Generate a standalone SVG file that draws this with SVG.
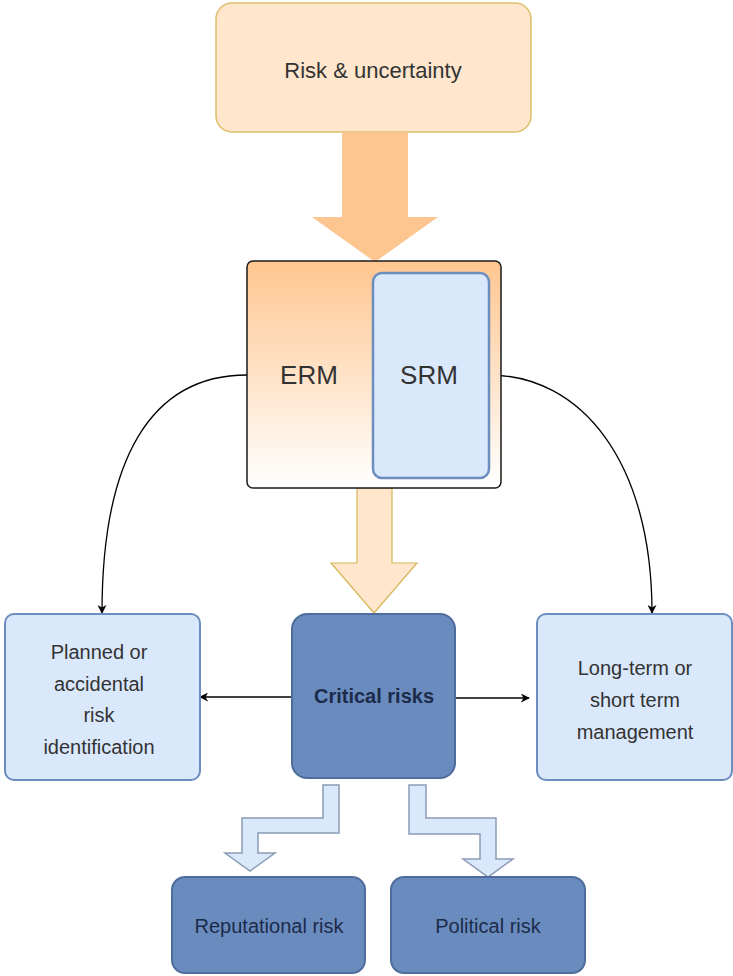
<svg xmlns="http://www.w3.org/2000/svg" width="733" height="976" viewBox="0 0 733 976">
<defs>
<linearGradient id="ermGrad" x1="0" y1="0" x2="0" y2="1">
<stop offset="0" stop-color="#FFC690"/>
<stop offset="1" stop-color="#FFFFFF"/>
</linearGradient>
<marker id="arr" viewBox="0 0 10 10" refX="9" refY="5" markerWidth="9" markerHeight="9" markerUnits="userSpaceOnUse" orient="auto">
<path d="M0,0 L10,5 L0,10 L3,5 Z" fill="#000"/>
</marker>
</defs>
<style>
text{font-family:"Liberation Sans",Arial,sans-serif;text-anchor:middle}
.lt{fill:#333333;font-size:20px}
.dk{fill:#1C2B4A;font-size:20px}
.lb{fill:#DAE8FC;stroke:#6C8EBF;stroke-width:2}
.db{fill:#6A8BBE;stroke:#4E6C9C;stroke-width:2}
.conn{fill:none;stroke:#000;stroke-width:1.3;marker-end:url(#arr)}
.bent{fill:#DAE8FC;stroke:#8A9BB5;stroke-width:1.5}
</style>
<rect width="733" height="976" fill="#FFFFFF"/>
<g id="risk-uncertainty">
<rect x="216" y="3" width="315" height="129" rx="16" fill="#FFE6CC" stroke="#DDBE6A" stroke-width="1.5"/>
<text x="373" y="78" style="font-size:22px;fill:#333">Risk &amp; uncertainty</text>
</g>
<g id="connectors">
<polygon points="342,132 408,132 408,217 438,217 375,262 312,217 342,217" fill="#FDC690"/>
<polygon points="357,488 392,488 392,563 417,563 374,613 331,563 357,563" fill="#FFE6CC" stroke="#D6B656" stroke-width="1.2"/>
<path class="conn" d="M247,375 C150,375 102,460 102,613"/>
<path class="conn" d="M489,375 C580,375 652,460 652,613"/>
<path class="conn" d="M291,697 L200,697"/>
<path class="conn" d="M456,698 L529,698"/>
<polygon class="bent" points="323,785 339,785 339,833 258,833 258,853 275,853 250,871 225,853 242,853 242,818 323,818"/>
<polygon class="bent" points="409,785 426,785 426,818 496,818 496,859 513,859 488,877 463,859 480,859 480,834 409,834"/>
</g>
<g id="erm">
<rect x="247" y="261" width="254" height="227" rx="6" fill="url(#ermGrad)" stroke="#1a1a1a" stroke-width="1.5"/>
<text x="309" y="384" style="font-size:26px;fill:#333">ERM</text>
</g>
<g id="srm">
<rect x="373" y="273" width="116" height="205" rx="9" fill="#DAE8FC" stroke="#6C8EBF" stroke-width="2.5"/>
<text x="429" y="384" style="font-size:26px;fill:#333">SRM</text>
</g>
<g id="critical-risks">
<rect x="292" y="614" width="163" height="164" rx="15" class="db"/>
<text x="374" y="703" class="dk" style="font-weight:bold">Critical risks</text>
</g>
<g id="planned">
<rect x="5" y="614" width="195" height="166" rx="9" class="lb"/>
<text x="99" y="659" class="lt">Planned or</text>
<text x="99" y="691" class="lt">accidental</text>
<text x="99" y="722" class="lt">risk</text>
<text x="99" y="754" class="lt">identification</text>
</g>
<g id="long-term">
<rect x="537" y="614" width="195" height="166" rx="9" class="lb"/>
<text x="635" y="675" class="lt">Long-term or</text>
<text x="635" y="707" class="lt">short term</text>
<text x="635" y="739" class="lt">management</text>
</g>
<g id="reputational">
<rect x="172" y="877" width="193" height="96" rx="13" class="db"/>
<text x="269" y="933" class="dk">Reputational risk</text>
</g>
<g id="political">
<rect x="391" y="877" width="194" height="96" rx="13" class="db"/>
<text x="488" y="933" class="dk">Political risk</text>
</g>
</svg>
